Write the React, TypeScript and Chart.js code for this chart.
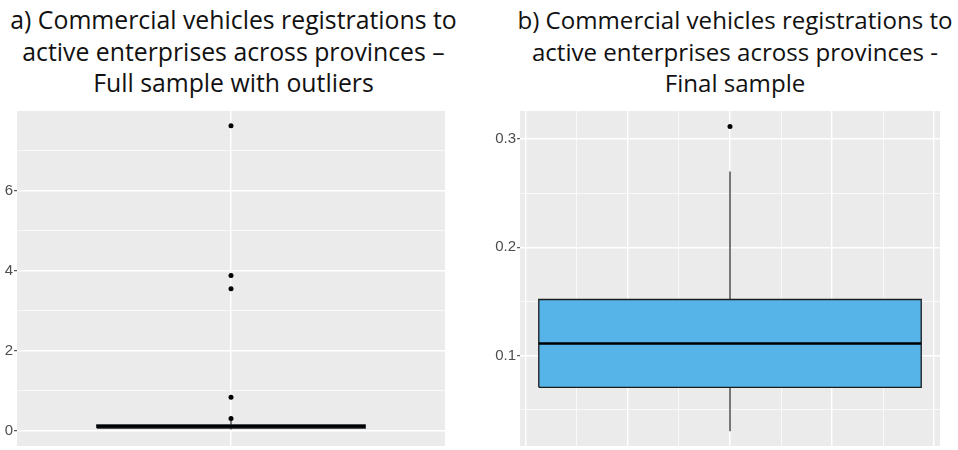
import React, { useEffect, useRef } from 'react';
import { Chart, registerables } from 'chart.js';

Chart.register(...registerables);

// ---- data ----
const TITLE_A = ['a) Commercial vehicles registrations to', 'active enterprises across provinces –', 'Full sample with outliers'];
const TITLE_B = ['b) Commercial vehicles registrations to', 'active enterprises across provinces -', 'Final sample'];

// box statistics: [lower whisker, Q1, median, Q3, upper whisker]
const FULL_STATS = [0.03, 0.07, 0.11, 0.15, 0.27];
const FULL_OUTLIERS = [0.31, 0.84, 3.55, 3.88, 7.62];
const FINAL_STATS = [0.03, 0.0705, 0.111, 0.1517, 0.27];
const FINAL_OUTLIERS = [0.3115];

const FULL_Y_LABELS = [0, 2, 4, 6];
const FINAL_Y_LABELS = [0.1, 0.2, 0.3];

// ---- styles ----
const PANEL_BG = '#EBEBEB';
const BOX_FILL = '#56B4E9';
const BOX_LINE = '#1c1c1c';
const TICK_FONT = "'Liberation Sans Narrow', 'Arial Narrow', 'Liberation Sans', sans-serif";

const bgPlugin = {
  id: 'panelBg',
  beforeDraw(chart: any) {
    const { ctx, chartArea } = chart;
    ctx.save();
    ctx.fillStyle = PANEL_BG;
    ctx.fillRect(chartArea.left, chartArea.top, chartArea.right - chartArea.left, chartArea.bottom - chartArea.top);
    ctx.restore();
  },
};

type PanelProps = {
  stats: number[];
  outliers: number[];
  yLabels: number[];
  yMin: number;
  yMax: number;
  yStep: number;
  xHalf: number;
  xStep: number;
  boxHalf: number;
  axisWidth: number;
  xGridVisible: (v: number) => boolean;
  xMajor: (v: number) => boolean;
  left: number;
  top: number;
  width: number;
  height: number;
};

function BoxPanel(p: PanelProps) {
  const ref = useRef<HTMLCanvasElement | null>(null);
  useEffect(() => {
    if (!ref.current) return;
    const [lo, q1, med, q3, hi] = p.stats;
    const h = p.boxHalf;
    const isMajorY = (v: number) => p.yLabels.some((l) => Math.abs(l - v) < 1e-9);
    const chart = new Chart(ref.current, {
      type: 'line',
      data: {
        datasets: [
          {
            label: 'outliers',
            data: p.outliers.map((y) => ({ x: 0, y })),
            showLine: false,
            pointRadius: 2.5,
            pointBackgroundColor: '#000',
            pointBorderColor: '#000',
            pointBorderWidth: 0,
            order: 0,
          },
          {
            label: 'median',
            data: [
              { x: -h, y: med },
              { x: h, y: med },
            ],
            borderColor: '#000',
            borderWidth: 2.6,
            pointRadius: 0,
            order: 1,
          },
          {
            label: 'upper whisker',
            data: [
              { x: 0, y: q3 },
              { x: 0, y: hi },
            ],
            borderColor: '#222',
            borderWidth: 1.2,
            pointRadius: 0,
            order: 2,
          },
          {
            label: 'lower whisker',
            data: [
              { x: 0, y: lo },
              { x: 0, y: q1 },
            ],
            borderColor: '#222',
            borderWidth: 1.2,
            pointRadius: 0,
            order: 2,
          },
          {
            label: 'box',
            data: [
              { x: -h, y: q1 },
              { x: -h, y: q3 },
              { x: h, y: q3 },
              { x: h, y: q1 },
              { x: -h, y: q1 },
            ],
            borderColor: BOX_LINE,
            borderWidth: 1.3,
            backgroundColor: BOX_FILL,
            fill: 'shape',
            pointRadius: 0,
            tension: 0,
            order: 3,
          },
        ] as any,
      },
      options: {
        animation: false,
        responsive: false,
        layout: { padding: 0 },
        plugins: {
          legend: { display: false },
          tooltip: { enabled: false },
          title: { display: false },
        },
        scales: {
          x: {
            type: 'linear',
            min: -p.xHalf,
            max: p.xHalf,
            border: { display: false },
            ticks: { display: false, stepSize: p.xStep, includeBounds: false },
            grid: {
              drawTicks: false,
              color: (c: any) => (p.xGridVisible(c.tick.value) ? '#FFFFFF' : 'rgba(0,0,0,0)'),
              lineWidth: (c: any) => (p.xMajor(c.tick.value) ? 1.4 : 0.7),
            },
          },
          y: {
            type: 'linear',
            min: p.yMin,
            max: p.yMax,
            border: { display: false },
            afterFit: (s: any) => {
              s.width = p.axisWidth;
              s.paddingTop = 0;
              s.paddingBottom = 0;
            },
            ticks: {
              stepSize: p.yStep,
              includeBounds: false,
              autoSkip: false,
              padding: 1,
              color: '#4D4D4D',
              font: { family: TICK_FONT, size: 15 },
              callback: (v: any) => (isMajorY(Number(v)) ? String(Number(Number(v).toFixed(4))) : ''),
            },
            grid: {
              drawTicks: true,
              tickLength: 3,
              tickWidth: 1,
              tickColor: (c: any) => (isMajorY(c.tick.value) ? '#333333' : 'rgba(0,0,0,0)'),
              color: '#FFFFFF',
              lineWidth: (c: any) => (isMajorY(c.tick.value) ? 1.4 : 0.7),
            },
          },
        },
      } as any,
      plugins: [bgPlugin],
    });
    return () => chart.destroy();
  }, []);
  return (
    <canvas
      ref={ref}
      width={p.width}
      height={p.height}
      style={{ position: 'absolute', left: p.left, top: p.top, width: p.width, height: p.height }}
    />
  );
}

function Title({ lines, center, size }: { lines: string[]; center: number; size: number }) {
  return (
    <div
      style={{
        position: 'absolute',
        left: center - 300,
        top: 4,
        width: 600,
        textAlign: 'center',
        fontFamily: "'Open Sans', 'Noto Sans', sans-serif",
        fontSize: size,
        lineHeight: '31.5px',
        color: '#111',
        whiteSpace: 'nowrap',
      }}
    >
      {lines.map((l, i) => (
        <div key={i}>{l}</div>
      ))}
    </div>
  );
}

export default function App() {
  return (
    <div
      style={{
        position: 'absolute',
        left: 0,
        top: 0,
        width: 958,
        height: 450,
        overflow: 'hidden',
        background: '#FFFFFF',
      }}
    >
      <Title lines={TITLE_A} center={233.5} size={24.8} />
      <Title lines={TITLE_B} center={735} size={24.1} />
      <BoxPanel
        stats={FULL_STATS}
        outliers={FULL_OUTLIERS}
        yLabels={FULL_Y_LABELS}
        yMin={-0.38}
        yMax={7.99}
        yStep={1}
        xHalf={1}
        xStep={1}
        boxHalf={0.627}
        axisWidth={17}
        xGridVisible={(v) => Math.abs(v) < 1e-9}
        xMajor={() => true}
        left={0}
        top={107}
        width={449}
        height={343}
      />
      <BoxPanel
        stats={FINAL_STATS}
        outliers={FINAL_OUTLIERS}
        yLabels={FINAL_Y_LABELS}
        yMin={0.0163}
        yMax={0.3259}
        yStep={0.05}
        xHalf={2.058}
        xStep={0.5}
        boxHalf={1.874}
        axisWidth={30}
        xGridVisible={() => true}
        xMajor={(v) => Math.abs(v - Math.round(v)) < 1e-9}
        left={490}
        top={107}
        width={454}
        height={343}
      />
    </div>
  );
}
